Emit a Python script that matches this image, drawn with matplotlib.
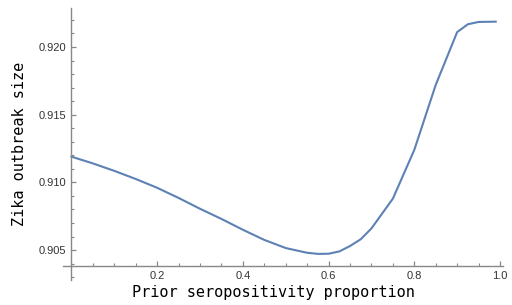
import matplotlib
matplotlib.use("Agg")
import matplotlib.pyplot as plt
from matplotlib.ticker import MultipleLocator, FixedLocator

x = [0.0, 0.05, 0.1, 0.15, 0.2, 0.25, 0.3, 0.35, 0.4, 0.45, 0.5, 0.55, 0.575,
     0.6, 0.625, 0.65, 0.675, 0.7, 0.75, 0.8, 0.85, 0.9, 0.925, 0.95, 0.99]
y = [0.9119, 0.9114, 0.91085, 0.91025, 0.9096, 0.90885, 0.90805, 0.9073, 0.9065,
     0.90575, 0.90515, 0.9048, 0.90472, 0.90473, 0.9049, 0.9053, 0.9058,
     0.9066, 0.9088, 0.9124, 0.9172, 0.9211, 0.92168, 0.92185, 0.92187]

xticks = [0.2, 0.4, 0.6, 0.8, 1.0]
xticklabels = ["0.2", "0.4", "0.6", "0.8", "1.0"]
yticks = [0.905, 0.910, 0.915, 0.920]
yticklabels = ["0.905", "0.910", "0.915", "0.920"]

W, H = 512, 305
fig = plt.figure(figsize=(W / 100, H / 100), dpi=100)
left, right, top, bottom = 63, 503, 8, 280
ax = fig.add_axes([left / W, (H - bottom) / H, (right - left) / W, (bottom - top) / H])

ax.plot(x, y, color="#5E81B5", lw=1.5, solid_joinstyle="round")

ax.set_xlim(-0.0198, 1.007)
ax.set_ylim(0.90279, 0.92288)

axcol = "#888888"
for s in ["top", "right"]:
    ax.spines[s].set_visible(False)
ax.spines["left"].set_position(("data", 0.0))
ax.spines["bottom"].set_position(("data", 0.90383))
ax.spines["left"].set_color(axcol)
ax.spines["bottom"].set_color(axcol)
ax.spines["left"].set_linewidth(1.0)
ax.spines["bottom"].set_linewidth(1.0)

ax.xaxis.set_major_locator(FixedLocator(xticks))
ax.set_xticklabels(xticklabels)
ax.xaxis.set_minor_locator(MultipleLocator(0.05))
ax.yaxis.set_major_locator(FixedLocator(yticks))
ax.set_yticklabels(yticklabels)
ax.yaxis.set_minor_locator(MultipleLocator(0.001))

ax.tick_params(which="major", direction="in", length=3.6, width=0.9, color=axcol,
               labelsize=8, labelcolor="#333333", pad=4)
ax.tick_params(which="minor", direction="in", length=2.0, width=0.8, color=axcol)
for lab in ax.get_xticklabels() + ax.get_yticklabels():
    lab.set_family(["Liberation Sans", "DejaVu Sans"])

ax.set_xlabel("Prior seropositivity proportion", family="DejaVu Sans Mono",
              fontsize=11, va="center")
ax.set_ylabel("Zika outbreak size", family="DejaVu Sans Mono",
              fontsize=11, va="center")
ax.xaxis.set_label_coords((273.5 - left) / (right - left), (bottom - 293) / (bottom - top))
ax.yaxis.set_label_coords((20 - left) / (right - left), 0.5)

fig.savefig("out.png", dpi=100)
